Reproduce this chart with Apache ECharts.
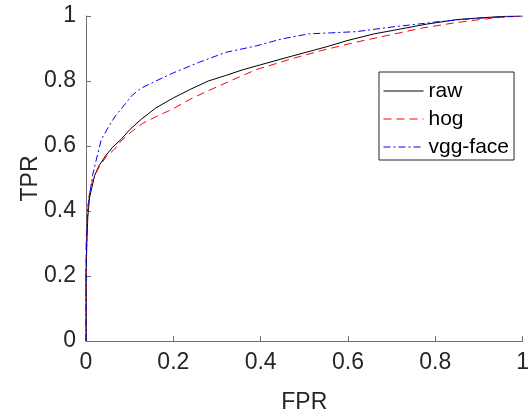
<!DOCTYPE html>
<html lang="en">
<head>
    <meta charset="UTF-8">
    <title>ROC</title>
    <style>
        html, body { margin: 0; padding: 0; background: #fff; }
    </style>
</head>
<body>

<div id="main" style="width: 532px; height: 419px;"></div>

<script src="https://cdn.jsdelivr.net/npm/echarts@6/dist/echarts.min.js"></script>
<script>
    // curve points (FPR, TPR)
    var rawFpr = [0, 0, 0, 0.002, 0.004, 0.008, 0.013, 0.02, 0.03, 0.045, 0.06, 0.08, 0.1, 0.127, 0.16, 0.2, 0.24, 0.28, 0.32, 0.36, 0.4, 0.47, 0.55, 0.6, 0.66, 0.72, 0.78, 0.85, 0.9, 0.96, 1];
    var rawTpr = [0, 0.1, 0.2, 0.3, 0.38, 0.44, 0.47, 0.51, 0.54, 0.57, 0.595, 0.62, 0.65, 0.683, 0.717, 0.748, 0.775, 0.8, 0.817, 0.835, 0.85, 0.876, 0.905, 0.925, 0.945, 0.96, 0.975, 0.989, 0.994, 0.999, 1];

    var hogFpr = [0, 0, 0, 0.003, 0.006, 0.012, 0.02, 0.03, 0.045, 0.065, 0.08, 0.105, 0.13, 0.16, 0.2, 0.24, 0.28, 0.33, 0.39, 0.47, 0.54, 0.62, 0.69, 0.77, 0.84, 0.89, 0.95, 1];
    var hogTpr = [0, 0.15, 0.3, 0.38, 0.44, 0.48, 0.51, 0.535, 0.565, 0.59, 0.615, 0.645, 0.67, 0.69, 0.715, 0.745, 0.77, 0.8, 0.835, 0.868, 0.894, 0.92, 0.94, 0.963, 0.978, 0.987, 0.996, 1];

    var vggFpr = [0, 0, 0.002, 0.005, 0.009, 0.015, 0.024, 0.035, 0.05, 0.066, 0.09, 0.105, 0.125, 0.16, 0.2, 0.26, 0.32, 0.39, 0.45, 0.51, 0.56, 0.62, 0.7, 0.76, 0.81, 0.87, 0.92, 1];
    var vggTpr = [0, 0.2, 0.35, 0.42, 0.455, 0.51, 0.56, 0.62, 0.655, 0.69, 0.73, 0.755, 0.777, 0.8, 0.825, 0.858, 0.888, 0.908, 0.93, 0.945, 0.948, 0.952, 0.966, 0.975, 0.983, 0.99, 0.995, 1];

    var seriesNames = ['raw', 'hog', 'vgg-face'];
    var tickStep = 0.2;

    function pairs(xs, ys) {
        var out = [];
        for (var i = 0; i < xs.length; i++) {
            out.push([xs[i], ys[i]]);
        }
        return out;
    }

    var font = '"Liberation Sans", Arial, Helvetica, sans-serif';
    var textColor = '#262626';
    var axisColor = '#6e6e6e';

    var myChart = echarts.init(document.getElementById('main'));

    function axis(name, gap) {
        return {
            type: 'value',
            min: 0,
            max: 1,
            interval: tickStep,
            name: name,
            nameLocation: 'middle',
            nameGap: gap,
            nameMoveOverlap: false,
            nameTextStyle: { fontFamily: font, fontSize: 23, color: textColor },
            axisLine: { show: true, lineStyle: { color: axisColor, width: 1 } },
            axisTick: { show: true, inside: true, length: 5, lineStyle: { color: axisColor } },
            axisLabel: {
                fontFamily: font, fontSize: 23, color: textColor, margin: 10,
                formatter: function (v) { return String(+v.toFixed(1)); }
            },
            splitLine: { show: false }
        };
    }

    var option = {
        animation: false,
        backgroundColor: '#fff',
        grid: { left: 86, right: 5, top: 16, bottom: 78 },
        xAxis: axis('FPR', 50),
        yAxis: axis('TPR', 44),
        legend: {
            orient: 'vertical',
            left: 379,
            top: 72,
            padding: [8, 5, 2, 4],
            itemGap: 6,
            itemWidth: 40,
            itemHeight: 14,
            borderColor: '#262626',
            borderWidth: 1,
            backgroundColor: '#fff',
            itemStyle: { opacity: 0 },
            lineStyle: { width: 1 },
            textStyle: { fontFamily: font, fontSize: 21, color: '#000', lineHeight: 22 },
            data: seriesNames
        },
        series: [
            {
                name: seriesNames[0],
                type: 'line',
                symbol: 'none',
                data: pairs(rawFpr, rawTpr),
                lineStyle: { color: '#000', width: 1, type: 'solid' },
                itemStyle: { color: '#000' }
            },
            {
                name: seriesNames[1],
                type: 'line',
                symbol: 'none',
                data: pairs(hogFpr, hogTpr),
                lineStyle: { color: '#ff0000', width: 1, type: [8, 5] },
                itemStyle: { color: '#ff0000' }
            },
            {
                name: seriesNames[2],
                type: 'line',
                symbol: 'none',
                data: pairs(vggFpr, vggTpr),
                lineStyle: { color: '#0000ff', width: 1, type: [7, 3, 2, 3] },
                itemStyle: { color: '#0000ff' }
            }
        ]
    };
    myChart.setOption(option);
</script>
</body>
</html>
